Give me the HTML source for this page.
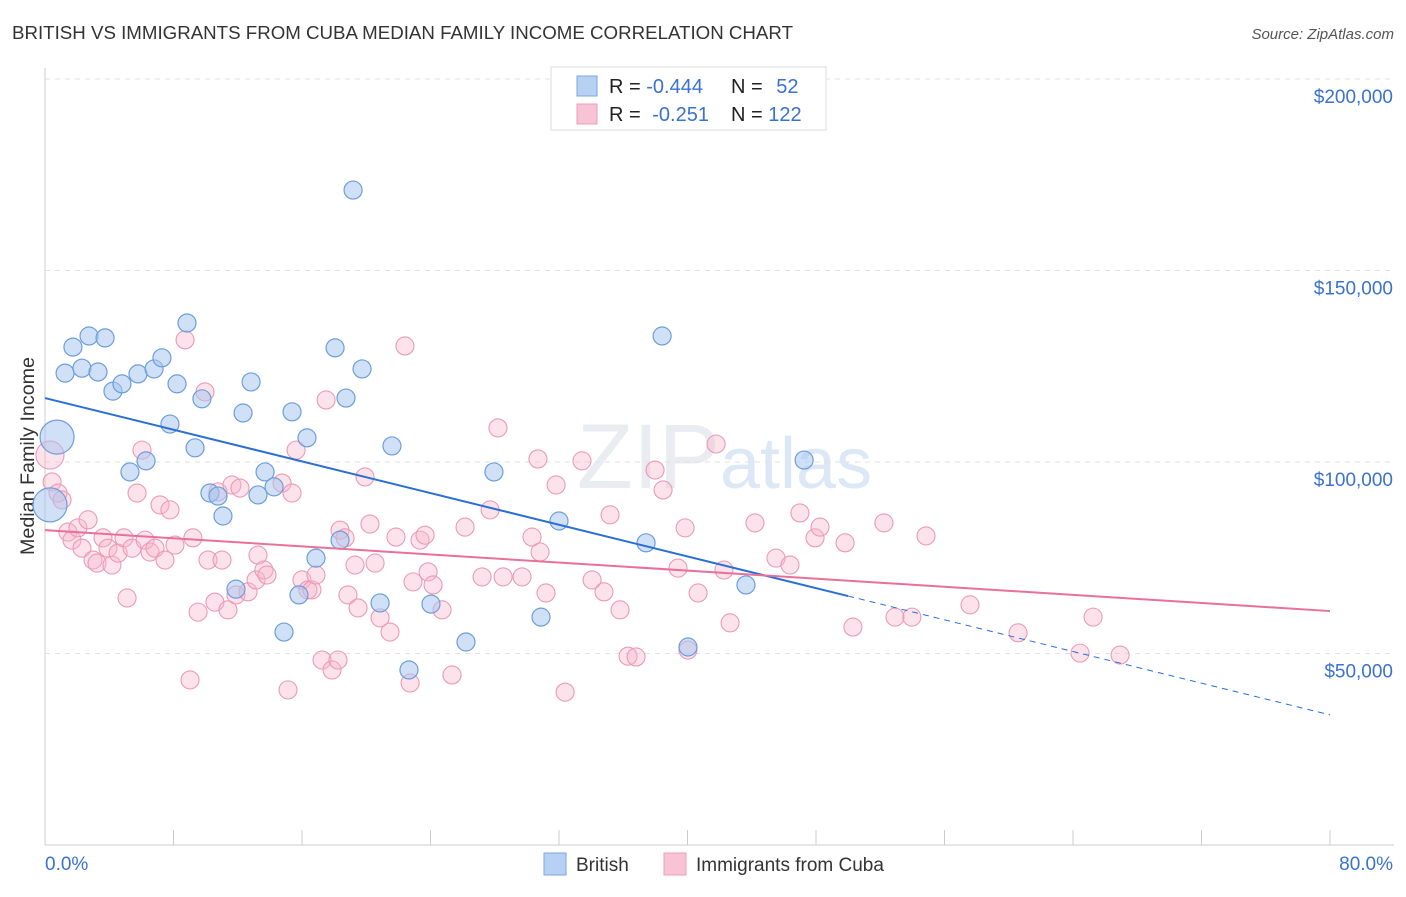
<!DOCTYPE html>
<html><head><meta charset="utf-8"><style>
body{margin:0;background:#fff;font-family:"Liberation Sans",sans-serif;}
svg text{font-family:"Liberation Sans",sans-serif;}
</style></head><body>
<svg id="chart" width="1406" height="892">
<text x="12" y="39" font-size="18" fill="#333" textLength="781" lengthAdjust="spacingAndGlyphs">BRITISH VS IMMIGRANTS FROM CUBA MEDIAN FAMILY INCOME CORRELATION CHART</text>
<text x="1394" y="39" font-size="15" fill="#555" font-style="italic" text-anchor="end">Source: ZipAtlas.com</text>
<text x="34" y="456" font-size="19" fill="#333" transform="rotate(-90 34 456)" text-anchor="middle" textLength="198" lengthAdjust="spacingAndGlyphs">Median Family Income</text>
<text x="720" y="488" font-size="92" fill="#d8dde6" text-anchor="end" font-family="Liberation Serif" opacity="0.55">ZIP</text>
<text x="720" y="488" font-size="72" fill="#bcd2ee" opacity="0.5">atlas</text>
<g id="grid"></g><g id="axes"></g><g id="pts"></g><g id="lines"></g>
<g>
<rect x="551" y="67" width="275" height="63" fill="#fff" stroke="#ddd"/>
<rect x="577" y="76" width="20" height="20" fill="#b7d1f3" stroke="#7ba6dc"/>
<rect x="577" y="104" width="20" height="20" fill="#f8c4d5" stroke="#e9a0b8"/>
<text x="609" y="93" font-size="20" fill="#222">R = <tspan fill="#3a72d0">-0.444</tspan></text>
<text x="731" y="93" font-size="20" fill="#222">N = <tspan fill="#3a72d0" dx="8">52</tspan></text>
<text x="609" y="121" font-size="20" fill="#222">R = <tspan fill="#3a72d0" dx="6">-0.251</tspan></text>
<text x="731" y="121" font-size="20" fill="#222">N = <tspan fill="#3a72d0">122</tspan></text>
</g>
<g>
<rect x="544" y="853" width="22" height="22" fill="#b7d1f3" stroke="#7ba6dc"/>
<text x="576" y="871" font-size="19" fill="#333">British</text>
<rect x="664" y="853" width="22" height="22" fill="#f8c4d5" stroke="#e9a0b8"/>
<text x="696" y="871" font-size="19" fill="#333">Immigrants from Cuba</text>
</g>
</svg>
<script>
const britishX=[0.75,1.25,1.74,2.30,2.74,3.30,3.74,4.23,4.79,5.29,5.79,6.29,6.79,7.28,7.78,8.22,8.84,9.34,9.77,10.27,10.77,11.08,12.33,12.83,13.26,13.70,14.26,14.88,15.38,15.81,16.31,16.87,18.06,18.37,18.74,19.18,19.74,20.86,21.60,22.66,24.03,26.21,27.95,30.88,32.00,37.42,38.42,40.03,43.64,47.26,11.89,0.31];
const britishY=[106.5,123.2,130.0,124.5,132.9,123.5,132.4,118.5,120.4,97.4,123.0,100.3,124.3,127.2,109.9,120.4,136.3,103.7,116.5,91.9,91.1,85.9,112.8,120.9,91.4,97.4,93.5,55.6,113.1,65.3,106.3,74.9,129.8,79.6,116.7,171.0,124.3,63.2,104.2,45.7,62.9,53.0,97.4,59.5,84.6,78.9,132.9,51.7,67.9,100.5,66.8,88.8];
const cubaX=[0.31,0.44,0.81,1.06,1.43,1.68,2.05,2.30,2.68,2.99,3.24,3.61,3.92,4.17,4.55,4.92,5.11,5.42,5.73,6.04,6.23,6.54,6.85,7.16,7.47,7.78,8.09,8.72,9.03,9.21,9.53,9.96,10.15,10.58,10.77,11.02,11.39,11.64,11.89,12.14,12.64,13.14,13.26,13.63,13.82,14.76,15.13,15.38,15.63,16.00,16.37,16.62,16.87,17.25,17.50,17.87,18.24,18.37,18.68,18.86,19.30,19.49,19.92,20.23,20.55,20.86,21.48,21.85,22.41,22.73,22.91,23.35,23.66,23.85,24.16,24.72,25.34,26.15,27.21,27.71,28.20,28.52,29.70,30.32,30.69,30.82,31.19,31.82,32.38,33.43,34.06,34.80,35.18,35.80,36.30,36.80,37.98,38.48,39.41,39.85,40.03,40.66,41.78,42.27,42.65,44.20,45.51,46.38,47.00,47.94,48.25,49.81,50.30,52.23,52.92,53.97,54.85,57.59,60.58,64.44,65.25,66.93];
const cubaY=[101.8,94.8,91.9,90.1,81.7,79.6,82.8,77.5,84.9,74.4,73.6,80.2,77.5,73.1,76.2,80.2,64.5,77.5,91.9,103.1,79.6,76.5,77.5,88.8,74.4,87.5,78.3,131.9,43.1,80.2,60.8,118.3,74.4,63.4,92.2,74.4,61.4,94.0,65.3,93.2,66.1,69.2,75.7,71.8,70.5,94.5,40.5,91.9,103.1,69.2,66.6,66.6,70.5,48.3,116.2,45.7,48.3,82.2,80.2,65.3,73.1,61.9,96.1,83.8,73.6,59.3,55.6,80.4,130.3,42.3,68.7,79.6,80.9,71.3,67.9,61.4,44.4,83.0,70.0,87.5,108.9,70.0,70.0,80.4,100.8,76.5,65.8,94.0,39.9,100.3,69.2,66.1,86.2,61.4,49.3,49.1,97.9,92.7,72.3,82.8,50.9,65.8,104.7,71.8,58.0,84.1,74.9,73.1,86.7,80.2,83.0,78.9,56.9,84.1,59.5,59.5,80.7,62.7,55.4,50.1,59.5,49.6];
const yTicks=[50,100,150,200];
const yTickLabels=["$50,000","$100,000","$150,000","$200,000"];
const xTicks=[0,8,16,24,32,40,48,56,64,72,80];
const britishTrend=[116.7,-1.034];
const cubaTrend=[82.2,-0.264];
const X=v=>45+v*(1285/80);
const Y=v=>845-v*(191.5/50);
const NS="http://www.w3.org/2000/svg";
function mk(tag,attrs,parent){const e=document.createElementNS(NS,tag);for(const k in attrs)e.setAttribute(k,attrs[k]);parent.appendChild(e);return e;}
const grid=document.getElementById('grid'),axes=document.getElementById('axes'),pts=document.getElementById('pts'),lines=document.getElementById('lines');
yTicks.forEach((t,i)=>{
 const l=mk('line',{x1:45,x2:1394,y1:Y(t),y2:Y(t),stroke:'#e2e2e2','stroke-dasharray':'5,5'},grid);
 
 
 const tx=mk('text',{x:1393,y:Y(t)+24,'font-size':19,fill:'#3a72d0','text-anchor':'end'},axes);
 tx.textContent=yTickLabels[i];
 
 
});
const ax=mk('line',{x1:45,x2:1394,y1:845,y2:845,stroke:'#ccc'},axes);


const ay=mk('line',{x1:45,x2:45,y1:68,y2:845,stroke:'#ccc'},axes);


xTicks.forEach(t=>{
 const l=mk('line',{x1:X(t),x2:X(t),y1:830,y2:845,stroke:'#ccc'},axes);
 
 
});
const xl0=mk('text',{x:45,y:870,'font-size':19,fill:'#3a72d0'},axes);xl0.textContent=xTicks[0].toFixed(1)+'%';


const xl1=mk('text',{x:1393,y:870,'font-size':19,fill:'#3a72d0','text-anchor':'end'},axes);xl1.textContent=xTicks[xTicks.length-1].toFixed(1)+'%';


cubaX.forEach((x,i)=>{
 const c=mk('circle',{cx:X(x),cy:Y(cubaY[i]),r:i==0?14:9,fill:'#f6b6cb','fill-opacity':0.38,stroke:'#eb9ab5','stroke-width':1.1},pts);
 
 
});
britishX.forEach((x,i)=>{
 const c=mk('circle',{cx:X(x),cy:Y(britishY[i]),r:(i==0||i==51)?17:9,fill:'#a9c7ef','fill-opacity':0.55,stroke:'#6d9ed9','stroke-width':1.2},pts);
 
 
});
const bl=mk('line',{x1:X(0),y1:Y(britishTrend[0]),x2:X(50),y2:Y(britishTrend[0]+britishTrend[1]*50),stroke:'#2a6fd6','stroke-width':2},lines);


const bd=mk('line',{x1:X(50),y1:Y(britishTrend[0]+britishTrend[1]*50),x2:X(80),y2:Y(britishTrend[0]+britishTrend[1]*80),stroke:'#2a6fd6','stroke-width':1,'stroke-dasharray':'6,5'},lines);


const pl=mk('line',{x1:X(0),y1:Y(cubaTrend[0]),x2:X(80),y2:Y(cubaTrend[0]+cubaTrend[1]*80),stroke:'#e8709a','stroke-width':2},lines);


</script>
</body></html>
